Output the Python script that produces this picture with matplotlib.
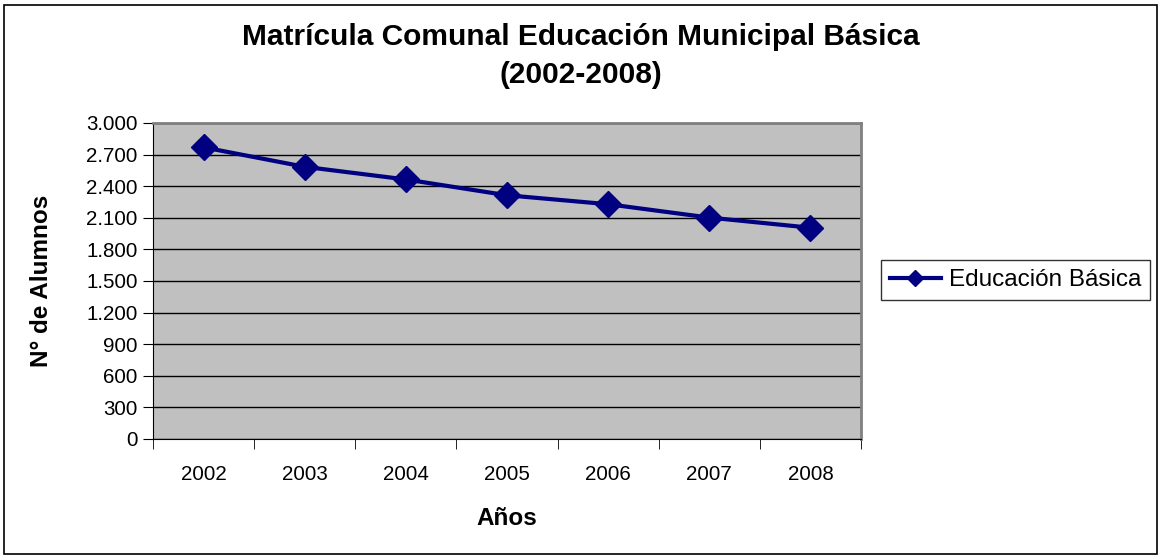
import numpy as np
import matplotlib.pyplot as plt
from matplotlib.patches import Rectangle

years = ['2002', '2003', '2004', '2005', '2006', '2007', '2008']
alumnos = [2769, 2584, 2464, 2314, 2229, 2102, 2006]
yticks = [0, 300, 600, 900, 1200, 1500, 1800, 2100, 2400, 2700, 3000]

plt.rcParams['font.family'] = ['Liberation Sans', 'DejaVu Sans']

fig = plt.figure(figsize=(11.62, 5.58), dpi=100)
ax = fig.add_axes([153/1162, 1-439/558, 708/1162, 316/558])

x = np.arange(len(years))
ax.plot(x, alumnos, color='#000080', lw=3, marker='D', ms=13,
        label='Educación Básica')

ax.set_facecolor('#C0C0C0')
ax.set_xlim(-0.5, len(years)-0.5)
ax.set_ylim(0, 3000)
ax.set_yticks(yticks)
ax.set_yticklabels([f'{v:,}'.replace(',', '.') for v in yticks], fontsize=14.8)
ax.yaxis.grid(True, color='black', lw=1)
ax.set_axisbelow(True)

ax.set_xticks(x)
ax.set_xticklabels(years, fontsize=14.8)
ax.set_xticks(np.arange(-0.5, len(years)), minor=True)
ax.tick_params(axis='x', which='major', length=0, pad=19)
ax.tick_params(axis='x', which='minor', length=7, direction='out', color='black')
ax.tick_params(axis='y', length=7, direction='out', color='black', pad=4)

for side in ['top', 'right']:
    ax.spines[side].set_color('#808080')
    ax.spines[side].set_linewidth(2)
ax.spines['left'].set_color('black')
ax.spines['bottom'].set_color('black')

ax.set_xlabel('Años', fontsize=17.5, fontweight='bold', labelpad=16)
ax.set_ylabel('N° de Alumnos', fontsize=17.5, fontweight='bold', labelpad=24)

fig.suptitle('Matrícula Comunal Educación Municipal Básica\n(2002-2008)',
             fontsize=21.5, fontweight='bold', y=0.958, linespacing=1.45)

leg = ax.legend(loc='center left', fontsize=17.5,
                frameon=True, fancybox=False, edgecolor='black', borderpad=0.35,
                handlelength=2.1, handletextpad=0.35, borderaxespad=0,
                markerscale=0.6)
leg.get_frame().set_linewidth(1)
leg.set_bbox_to_anchor((881/1162, 1-280/558), transform=fig.transFigure)

fig.patches.append(Rectangle((4/1162, 4/558), 1153/1162, 549/558, transform=fig.transFigure,
                             fill=False, edgecolor='black', lw=1.2))

fig.savefig('out.png', dpi=100)
